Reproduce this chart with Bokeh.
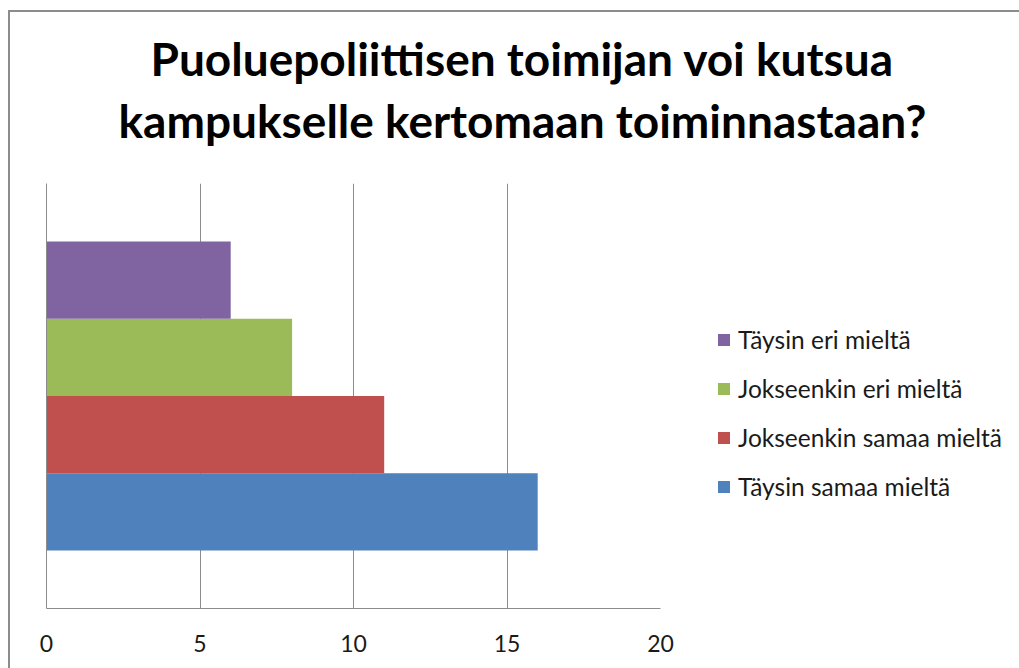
from bokeh.plotting import figure
from bokeh.models import Title, Legend, LegendItem, FixedTicker, Range1d, ColumnDataSource
from bokeh.embed import file_html
from bokeh.resources import INLINE

# ---- data ----
title_lines = ["Puoluepoliittisen toimijan voi kutsua", "kampukselle kertomaan toiminnastaan?"]
series = ["Täysin samaa mieltä", "Jokseenkin samaa mieltä", "Jokseenkin eri mieltä", "Täysin eri mieltä"]
values = [16, 11, 8, 6]
colors = ["#4F81BD", "#C0504D", "#9BBB59", "#8064A2"]
x_ticks = [0, 5, 10, 15, 20]

FONT = "Lato"
GRID = "#8c8c8c"

p = figure(width=1009, height=657, output_backend="svg", toolbar_location=None,
           x_range=Range1d(0, 20), y_range=Range1d(0, 1),
           min_border_left=36, min_border_right=359, min_border_top=171, min_border_bottom=61,
           frame_width=614, frame_height=425)
p.outline_line_color = None
p.background_fill_color = "white"
p.border_fill_color = "white"
p.styles = {"margin-left": "8px", "margin-top": "10px",
            "border-left": "2px solid #8c8c8c", "border-top": "2px solid #8c8c8c"}

# bars: one category, four series, Excel gap width 150%
n = len(series)
band = 1.0 / (n + 1.5)
renderers = []
for i, (name, v, c) in enumerate(zip(series, values, colors)):
    src = ColumnDataSource(dict(y=[0.5 + (i - (n - 1) / 2) * band], right=[v]))
    r = p.hbar(y="y", left=0, right="right", height=band, source=src,
               fill_color=c, line_color=None)
    renderers.append(r)

# axes
p.xaxis.ticker = FixedTicker(ticks=x_ticks)
p.xaxis.axis_line_color = GRID
p.xaxis.major_tick_line_color = None
p.xaxis.minor_tick_line_color = None
p.xaxis.major_tick_out = 0
p.xaxis.major_label_standoff = 26
p.xaxis.major_label_text_font = FONT
p.xaxis.major_label_text_font_size = "23px"
p.xaxis.major_label_text_color = "#1a1a1a"

p.yaxis.ticker = FixedTicker(ticks=[])
p.yaxis.axis_line_color = GRID
p.yaxis.major_tick_line_color = None
p.yaxis.minor_tick_line_color = None

p.xgrid.ticker = FixedTicker(ticks=x_ticks[1:])
p.xgrid.grid_line_color = GRID
p.ygrid.grid_line_color = None

# legend (top: last series)
items = [LegendItem(label=series[i], renderers=[renderers[i]]) for i in reversed(range(n))]
legend = Legend(items=items, location=(56, 107), orientation="vertical",
                label_text_font=FONT, label_text_font_size="24.5px", label_text_color="#1a1a1a",
                glyph_width=15, glyph_height=15, label_standoff=7, spacing=20,
                border_line_color=None, background_fill_alpha=0, padding=0, margin=0)
p.add_layout(legend, "right")

# title (first added sits closest to the frame)
has_standoff = "standoff" in Title.properties()
p.add_layout(Title(text=" ", text_font_size="17px"), "above")
p.add_layout(Title(text=title_lines[1], align="left", offset=72,
                   text_font=FONT, text_font_style="bold", text_font_size="46px",
                   text_color="#000000"), "above")
t1 = Title(text=title_lines[0], align="left", offset=104,
           text_font=FONT, text_font_style="bold", text_font_size="46px",
           text_color="#000000")
if has_standoff:
    t1.standoff = 0
p.add_layout(t1, "above")

open("out.html", "w").write(file_html(p, INLINE))
